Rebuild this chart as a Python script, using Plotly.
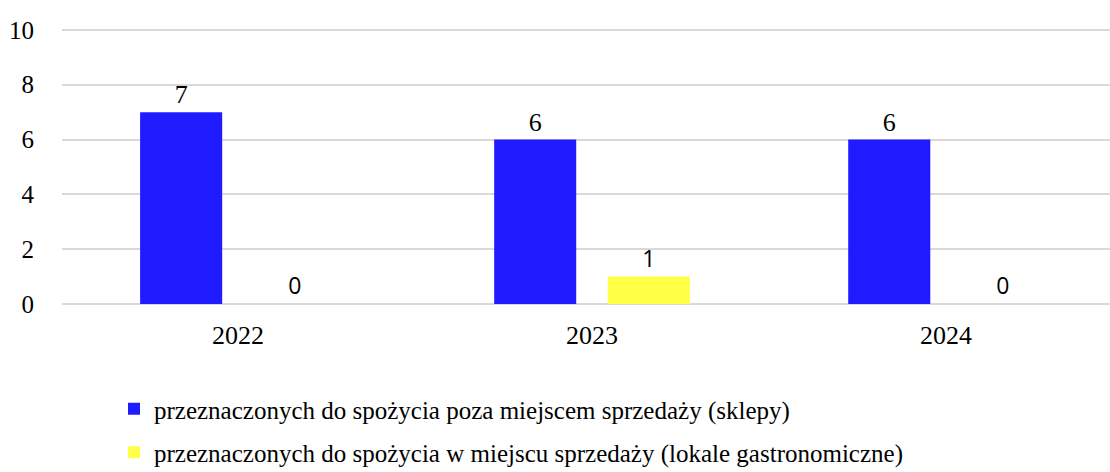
import plotly.graph_objects as go

# Dane: liczba punktów sprzedaży w kolejnych latach
years = ["2022", "2023", "2024"]
sklepy = [7, 6, 6]
lokale = [0, 1, 0]
series_names = [
    "przeznaczonych do spożycia poza miejscem sprzedaży (sklepy)",
    "przeznaczonych do spożycia w miejscu sprzedaży (lokale gastronomiczne)",
]
y_ticks = [0, 2, 4, 6, 8, 10]

SERIF = "Liberation Serif"
SANS = "Open Sans"

fig = go.Figure()
fig.add_trace(go.Bar(
    x=years, y=sklepy, name=series_names[0], legendgroup="a",
    marker=dict(color="#201BFF", line=dict(width=0)),
    text=sklepy, texttemplate="%{text}", textposition="outside",
    textfont=dict(family=SERIF, size=26, color="black"),
    cliponaxis=False,
))
fig.add_trace(go.Bar(
    x=years, y=lokale, name=series_names[1], legendgroup="b",
    marker=dict(color="#FFFF47", line=dict(width=0)),
    text=lokale, texttemplate="%{text}", textposition="outside",
    textfont=dict(family=SANS, size=23, color="black"),
    cliponaxis=False,
))

fig.update_layout(
    width=1110, height=472,
    margin=dict(l=62, r=0, t=28, b=168, autoexpand=False),
    paper_bgcolor="white", plot_bgcolor="white",
    barmode="group", bargap=0.358, bargroupgap=0.278,
    font=dict(family=SERIF, size=25, color="black"),
    legend=dict(
        xref="container", yref="container",
        x=114 / 1110, y=1 - 386 / 472,
        xanchor="left", yanchor="top",
        orientation="v", traceorder="grouped", tracegroupgap=8,
        font=dict(family=SERIF, size=25, color="black"),
        bgcolor="rgba(0,0,0,0)",
    ),
    showlegend=True,
)
fig.update_xaxes(
    type="category", range=[-0.497, 2.463],
    showgrid=False, showline=False, zeroline=False,
    tickangle=0, automargin=False,
    ticks="outside", ticklen=8, tickcolor="rgba(0,0,0,0)",
    tickfont=dict(family=SERIF, size=26),
)
fig.update_yaxes(
    range=[0, 10.07], tickvals=y_ticks, automargin=False,
    showgrid=True, gridcolor="#D9D9D9", gridwidth=1.5,
    zeroline=True, zerolinecolor="#D9D9D9", zerolinewidth=1.5,
    showline=False,
    ticks="outside", ticklen=22, tickcolor="rgba(0,0,0,0)",
    tickfont=dict(family=SERIF, size=25),
)

fig.write_html("out.html")
